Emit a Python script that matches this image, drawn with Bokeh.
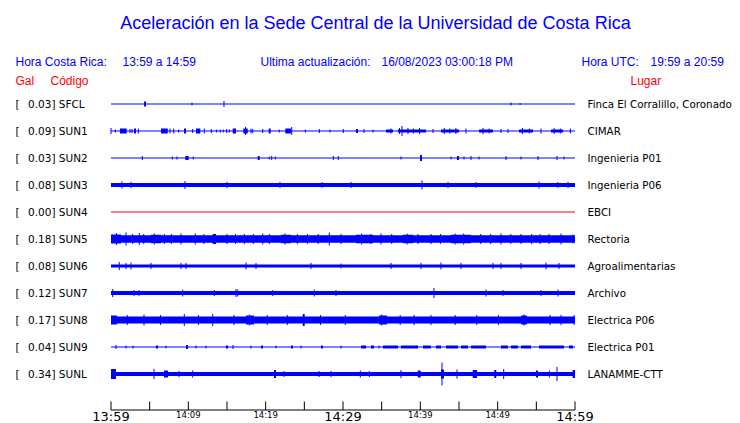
from bokeh.plotting import figure
from bokeh.models import Range1d
from bokeh.embed import file_html
from bokeh.resources import INLINE
from bokeh.core.properties import value

# ---------------- data ----------------
TITLE = "Aceleración en la Sede Central de la Universidad de Costa Rica"
HORA_CR = "13:59 a 14:59"
ACTUALIZACION = "16/08/2023 03:00:18 PM"
HORA_UTC = "19:59 a 20:59"

codes = ["SFCL", "SUN1", "SUN2", "SUN3", "SUN4", "SUN5",
         "SUN6", "SUN7", "SUN8", "SUN9", "SUNL"]
gal = [0.03, 0.09, 0.03, 0.08, 0.00, 0.18, 0.08, 0.12, 0.17, 0.04, 0.34]
places = ["Finca El Corralillo, Coronado", "CIMAR", "Ingenieria P01",
          "Ingenieria P06", "EBCI", "Rectoria", "Agroalimentarias",
          "Archivo", "Electrica P06", "Electrica P01", "LANAMME-CTT"]
trace_colors = ["#0000ff", "#0000ff", "#0000ff", "#0000ff", "#ff0000", "#0000ff",
                "#0000ff", "#0000ff", "#0000ff", "#0000ff", "#0000ff"]
# background (continuous) half-amplitude of each trace, display units
base_amp = [0.5, 0.5, 0.5, 2.0, 0.5, 3.8, 1.5, 2.0, 3.5, 0.5, 2.0]

# events: (minute from 13:59, duration in minutes, half-amplitude)
ev_SFCL = [(4.27, 0.26, 2.5), (10.47, 0.13, 1.5), (14.61, 0.13, 3.0),
           (51.72, 0.13, 1.5), (52.90, 0.13, 1.0)]
ev_SUN1 = [(0.0, 0.13, 3), (0.56, 0.13, 1.5), (1.16, 0.87, 2.5), (2.46, 0.13, 2),
           (2.72, 0.13, 2), (2.97, 0.26, 2.5), (3.53, 0.13, 2.5), (6.47, 0.87, 2.5),
           (7.63, 0.13, 2.5), (8.11, 0.13, 2.5), (8.75, 0.13, 1.5), (9.44, 0.26, 2.5),
           (10.56, 0.13, 2), (10.99, 0.56, 2.5), (12.06, 0.13, 2.5), (12.97, 0.13, 2),
           (13.67, 0.13, 1.5), (14.13, 0.13, 1.5), (14.52, 0.13, 1.5), (14.96, 0.13, 2),
           (15.30, 0.13, 1.5), (15.74, 0.43, 2.5), (17.11, 0.57, 2.5), (17.40, 0.13, 4),
           (18.10, 0.13, 2.5), (18.32, 0.13, 2), (19.62, 0.13, 2), (20.39, 0.26, 2.5),
           (21.76, 0.13, 1.5), (22.54, 0.74, 2.5), (23.37, 0.13, 4), (25.13, 0.13, 1.5),
           (26.94, 0.13, 2), (28.32, 0.13, 1.5), (30.04, 0.13, 2), (31.68, 0.26, 2),
           (32.72, 0.13, 2), (33.88, 0.13, 1.5), (35.56, 0.90, 1.5), (36.20, 0.13, 2.5),
           (37.11, 3.62, 1.5), (37.30, 0.13, 3), (37.63, 0.13, 5), (38.40, 0.13, 3),
           (39.10, 0.13, 2.5), (39.90, 0.13, 3), (41.64, 0.13, 2), (42.67, 2.33, 1.5),
           (43.10, 0.13, 3), (43.80, 0.13, 2.5), (44.60, 0.13, 3), (45.90, 0.13, 2.5),
           (47.59, 1.81, 1.5), (48.10, 0.13, 3), (48.90, 0.13, 2.5), (50.43, 0.13, 2),
           (51.34, 0.13, 2), (52.76, 1.81, 1.5), (53.20, 0.13, 3), (54.10, 0.13, 2.5),
           (55.60, 0.13, 2.5), (56.90, 1.55, 1.5), (57.30, 0.13, 3), (58.10, 0.13, 2.5),
           (59.40, 0.13, 2.5)]
ev_SUN2 = [(4.05, 0.13, 2), (7.93, 0.13, 1.5), (8.53, 0.13, 1.5), (9.61, 0.43, 2),
           (10.64, 0.13, 1.5), (18.97, 0.26, 2), (20.47, 0.13, 1.5), (20.78, 0.13, 2),
           (21.25, 0.13, 1.5), (28.75, 0.13, 2), (29.39, 0.13, 2), (37.50, 0.13, 1.5),
           (39.96, 0.26, 3), (43.97, 0.13, 1.5), (44.74, 0.26, 2), (45.65, 0.13, 1.5),
           (46.55, 0.13, 2), (47.59, 0.13, 1.5), (51.08, 0.13, 2), (53.02, 0.13, 1.5),
           (55.22, 0.13, 2), (57.67, 0.13, 2), (58.58, 0.13, 1.5)]
ev_SUN3 = [(1.42, 0.13, 3.5), (2.59, 0.13, 3), (9.57, 0.13, 4), (15.0, 0.13, 3),
           (21.85, 0.13, 3), (27.28, 0.13, 3), (31.03, 0.13, 3), (40.22, 0.13, 4.5),
           (43.58, 0.13, 3), (47.20, 0.13, 3), (55.34, 0.13, 3.5), (57.80, 0.13, 3),
           (59.09, 0.13, 3)]
ev_SUN4 = []
ev_SUN5 = [(0.0, 1.29, 4.5), (0.70, 0.13, 6), (1.94, 0.13, 6.5), (2.80, 0.13, 5),
           (3.66, 0.13, 6), (4.23, 0.13, 5), (5.17, 1.29, 4.3), (5.60, 0.13, 5.5),
           (6.90, 0.13, 5), (7.80, 0.13, 5), (9.05, 0.13, 5.5), (10.90, 0.13, 5.5),
           (12.00, 0.13, 5), (13.15, 0.43, 5), (15.0, 0.13, 5), (16.10, 0.13, 5),
           (17.24, 0.13, 5), (18.40, 0.13, 5), (19.62, 0.13, 5.5), (20.47, 0.13, 5),
           (21.98, 1.29, 4.3), (22.50, 0.13, 5.5), (24.10, 0.13, 5), (25.40, 0.13, 5),
           (26.80, 0.13, 5), (28.23, 0.13, 6.5), (29.74, 0.13, 5), (31.68, 2.20, 4.3),
           (32.40, 0.13, 5.5), (33.60, 0.13, 5), (34.91, 0.13, 5.5), (36.30, 0.13, 5),
           (37.76, 1.29, 4.3), (38.30, 0.13, 5.5), (39.70, 0.13, 5), (41.38, 0.13, 5),
           (42.60, 0.13, 5), (43.97, 2.59, 4.3), (44.50, 0.13, 5.5), (45.60, 0.13, 5.5),
           (47.80, 0.13, 5), (49.10, 0.13, 5), (50.43, 0.13, 5.5), (51.70, 0.13, 5),
           (53.02, 0.13, 5), (54.40, 0.13, 5), (55.50, 0.13, 5), (56.64, 0.13, 5),
           (58.19, 0.13, 5.5), (59.74, 0.13, 4.5)]
ev_SUN6 = [(1.07, 0.13, 4), (1.94, 0.13, 3), (2.59, 0.13, 3.5), (5.17, 0.13, 3),
           (9.05, 0.13, 3), (9.70, 0.13, 3), (17.46, 0.13, 3.5), (18.75, 0.13, 3),
           (25.86, 0.13, 3), (29.74, 0.13, 2.5), (36.21, 0.13, 3), (40.09, 0.13, 3),
           (42.67, 0.13, 3.5), (45.26, 0.13, 3), (49.40, 0.13, 3), (50.43, 0.13, 3),
           (53.02, 0.13, 3), (56.25, 0.13, 3.5), (57.93, 0.13, 3)]
ev_SUN7 = [(0.22, 0.13, 4), (2.97, 0.13, 3), (3.62, 0.13, 3), (9.27, 0.13, 3.5),
           (13.36, 0.13, 3), (16.16, 0.13, 4), (16.38, 0.13, 3.5), (20.91, 0.13, 3),
           (26.29, 0.13, 3.5), (29.09, 0.13, 3), (41.77, 0.13, 5), (48.49, 0.13, 3.5),
           (50.69, 0.13, 3), (55.60, 0.13, 3), (57.80, 0.13, 3.5)]
ev_SUN8 = [(0.0, 0.78, 4.5), (2.10, 0.13, 5), (4.27, 0.13, 5.5), (6.40, 0.13, 5),
           (9.48, 0.13, 6), (11.30, 0.13, 5), (13.15, 0.13, 6), (15.90, 0.13, 5),
           (17.46, 1.03, 4.5), (17.90, 0.13, 5.5), (20.20, 0.13, 5), (22.80, 0.13, 5),
           (24.79, 0.26, 6), (27.10, 0.13, 5), (30.30, 0.13, 5), (34.66, 1.03, 4.5),
           (35.00, 0.13, 5.5), (37.40, 0.13, 5), (39.20, 0.13, 5), (41.38, 0.13, 5),
           (44.50, 0.13, 5), (47.30, 0.13, 5), (50.10, 0.13, 5), (53.02, 0.78, 4.5),
           (53.40, 0.13, 5.5), (56.77, 0.13, 5), (58.19, 0.13, 5), (59.87, 0.13, 5)]
ev_SUN9 = [(0.65, 0.13, 2), (1.94, 0.13, 1.5), (2.84, 0.13, 1.5), (5.82, 0.26, 1.5),
           (7.11, 0.13, 1.5), (9.70, 0.26, 2), (10.99, 0.13, 1.5), (12.28, 0.13, 1.5),
           (14.87, 0.26, 1.5), (15.78, 0.13, 2), (18.10, 0.13, 1.5), (19.40, 0.26, 1.5),
           (21.34, 0.13, 1.5), (23.28, 0.26, 1.5), (24.57, 0.13, 1.5), (27.16, 0.26, 1.5),
           (29.74, 0.13, 1.5), (32.33, 0.65, 1.5), (33.62, 0.39, 1.5), (34.66, 0.13, 1.5),
           (35.17, 1.94, 1.5), (37.50, 2.20, 1.5), (40.34, 1.03, 1.5), (42.03, 0.65, 1.5),
           (43.32, 1.55, 1.5), (45.26, 0.90, 1.5), (46.55, 1.94, 1.5), (50.43, 0.90, 1.5),
           (51.72, 0.90, 1.5), (53.02, 1.29, 1.5), (55.34, 3.23, 1.5), (59.22, 0.52, 1.5)]
ev_SUNL = [(0.0, 0.65, 5), (5.56, 0.13, 5), (6.85, 0.52, 3.5), (8.79, 0.13, 3),
           (10.56, 0.13, 3.5), (21.08, 0.26, 4), (22.37, 0.13, 3), (26.90, 0.13, 3),
           (28.45, 0.13, 3), (32.24, 0.13, 3.5), (33.40, 0.13, 3), (37.50, 0.13, 4),
           (39.66, 0.39, 3.5), (42.67, 0.39, 4.5), (42.80, 0.13, 11.5), (44.74, 0.13, 4.5),
           (46.77, 0.56, 4), (49.56, 0.26, 4), (50.78, 0.13, 5), (54.96, 0.26, 3.5),
           (56.68, 0.13, 3.5), (57.67, 0.13, 7), (59.70, 0.39, 4)]
events = [ev_SFCL, ev_SUN1, ev_SUN2, ev_SUN3, ev_SUN4, ev_SUN5,
          ev_SUN6, ev_SUN7, ev_SUN8, ev_SUN9, ev_SUNL]

tick_minutes = [0, 5, 10, 15, 20, 25, 30, 35, 40, 45, 50, 55, 60]
small_tick_minutes = [10, 20, 40, 50]
small_tick_labels = ["14:09", "14:19", "14:39", "14:49"]
big_tick_minutes = [0, 30, 60]
big_tick_labels = ["13:59", "14:29", "14:59"]
WINDOW = (0, 60)

# ---------------- layout helpers ----------------
W, H = 740, 423
PX_PER_MIN = 464 / 60.0
ROW_PX = 27.0
X0_FIG = 110.5          # figure px of minute 0
ROW0_FIG = 103.5        # figure px of row 0 centre


def tx(page_x):
    return (page_x - X0_FIG) / PX_PER_MIN


def ty(page_y):
    return (page_y - ROW0_FIG) / ROW_PX


x_range = Range1d(-X0_FIG / PX_PER_MIN, (W - X0_FIG) / PX_PER_MIN)
y_range = Range1d((H - ROW0_FIG) / ROW_PX, -ROW0_FIG / ROW_PX)

p = figure(width=W, height=H, output_backend="svg", toolbar_location=None,
           x_range=x_range, y_range=y_range, x_axis_location=None,
           y_axis_location=None, title=None,
           min_border_left=0, min_border_right=0, min_border_top=0,
           min_border_bottom=0)
p.outline_line_color = None
p.grid.visible = False
p.background_fill_color = "white"
p.border_fill_color = "white"

BLUE = "#0000ff"
RED = "#ff0000"
SANS = value("Liberation Sans")
DJ = value("DejaVu Sans")

# ---------------- traces ----------------
amp_scale = 1.0 / ROW_PX
for i, (col, b, evs) in enumerate(zip(trace_colors, base_amp, events)):
    p.segment(x0=[WINDOW[0]], y0=[i], x1=[WINDOW[1]], y1=[i], line_color=col, line_width=1)
    if b > 0.5:
        p.quad(left=[WINDOW[0]], right=[WINDOW[1]], bottom=[i - b * amp_scale],
               top=[i + b * amp_scale], fill_color=col, line_color=None)
    sx, sy0, sy1 = [], [], []
    ql, qr, qb, qt = [], [], [], []
    for (t, d, a) in evs:
        if d <= 0.15:
            sx.append(t); sy0.append(i - a * amp_scale); sy1.append(i + a * amp_scale)
        else:
            ql.append(t); qr.append(min(t + d, WINDOW[1]))
            qb.append(i - a * amp_scale); qt.append(i + a * amp_scale)
    if sx:
        p.segment(x0=sx, y0=sy0, x1=sx, y1=sy1, line_color=col, line_width=1)
    if ql:
        p.quad(left=ql, right=qr, bottom=qb, top=qt, fill_color=col, line_color=None)

# ---------------- texts ----------------
rows = list(range(len(codes)))
p.text(x=[tx(15)] * len(codes), y=rows, text=["["] * len(codes),
       text_font=DJ, text_font_size=value("10.5px"), text_color="black",
       text_baseline="middle", text_align="left")
p.text(x=[tx(27.5)] * len(codes), y=rows,
       text=["%.2f] %s" % (g, c) for g, c in zip(gal, codes)],
       text_font=DJ, text_font_size=value("10.5px"), text_color="black",
       text_baseline="middle", text_align="left")
p.text(x=[tx(587)] * len(codes), y=rows, text=places,
       text_font=DJ, text_font_size=value("10.3px"), text_color="black",
       text_baseline="middle", text_align="left")

p.text(x=[tx(375)], y=[ty(22)], text=[TITLE], text_font=SANS,
       text_font_size=value("18px"), text_color=BLUE,
       text_baseline="middle", text_align="center")
p.text(x=[tx(15), tx(122), tx(260), tx(381), tx(581), tx(650)],
       y=[ty(61)] * 6,
       text=["Hora Costa Rica:", HORA_CR, "Ultima actualización:", ACTUALIZACION,
             "Hora UTC:", HORA_UTC],
       text_font=SANS, text_font_size=value("12px"), text_color=BLUE,
       text_baseline="middle", text_align="left")
p.text(x=[tx(15), tx(50), tx(630)], y=[ty(80.5)] * 3,
       text=["Gal", "Código", "Lugar"],
       text_font=SANS, text_font_size=value("12px"), text_color=RED,
       text_baseline="middle", text_align="left")

# ---------------- time axis (drawn on the minute scale) ----------------
AXIS_Y = ty(409.5)
TICK_TOP = ty(401)
p.segment(x0=[WINDOW[0]], y0=[AXIS_Y], x1=[WINDOW[1]], y1=[AXIS_Y],
          line_color="black", line_width=1)
p.segment(x0=tick_minutes, y0=[TICK_TOP] * len(tick_minutes),
          x1=tick_minutes, y1=[AXIS_Y] * len(tick_minutes),
          line_color="black", line_width=1)
p.text(x=small_tick_minutes, y=[ty(414.5)] * len(small_tick_minutes),
       text=small_tick_labels, text_font=DJ, text_font_size=value("8.5px"),
       text_color="black", text_align="center", text_baseline="middle")
p.text(x=big_tick_minutes, y=[ty(415.5)] * len(big_tick_minutes),
       text=big_tick_labels, text_font=DJ, text_font_size=value("13px"),
       text_color="black", text_align="center", text_baseline="middle")

open("out.html", "w").write(file_html(p, INLINE))
